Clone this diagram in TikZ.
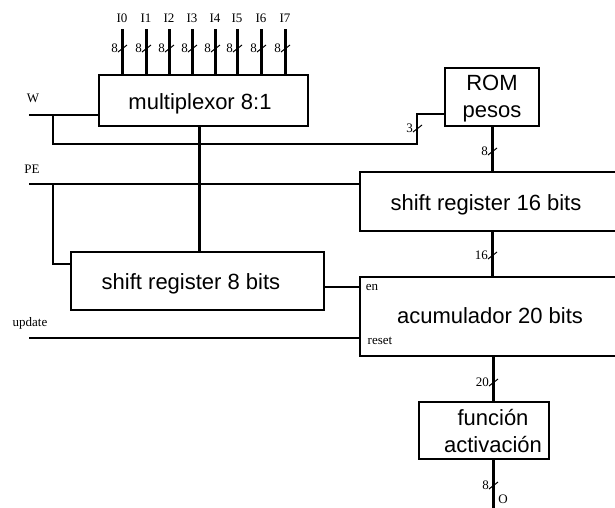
\documentclass[tikz,border=0pt]{standalone}
\usepackage{fontspec}
\setmainfont{Liberation Serif}
\newfontfamily\arialf{Liberation Sans}
\begin{document}
\begin{tikzpicture}[x=1pt,y=-1pt,
  blk/.style={draw,line width=1.4pt,inner sep=0pt},
  wire/.style={line width=1.3pt},
  bus/.style={line width=3pt},
  big/.style={font=\arialf\fontsize{22}{27}\selectfont},
  small/.style={font=\fontsize{13}{14}\selectfont,inner sep=0pt},
  slashmark/.style={line width=1pt}
]
\useasboundingbox (0,0) rectangle (615,507);
\clip (0,0) rectangle (615,507);
\newcommand\busmark[3]{%
  \draw[slashmark] (#1-4,#2+4) -- (#1+5,#2-3);
  \node[small,anchor=east] at (#1-4,#2) {#3};}

% blocks
\node[blk,minimum width=209pt,minimum height=51pt] (mux) at (203.5,100.5) {};
\node[big] (muxt) at (200,104) {multiplexor 8:1};
\node[blk,minimum width=94pt,minimum height=58pt] (rom) at (492,97) {};
\node[big,align=center] (romt) at (492,99) {ROM\\pesos};
\node[blk,minimum width=280pt,minimum height=59pt] (sr16) at (500,201.5) {};
\node[big] (sr16t) at (486,205) {shift register 16 bits};
\node[blk,minimum width=253pt,minimum height=58pt] (sr8) at (197.5,281) {};
\node[big] (sr8t) at (191,284) {shift register 8 bits};
\node[blk,minimum width=280pt,minimum height=79pt] (acc) at (500,316.5) {};
\node[big] (acct) at (490,316) {acumulador 20 bits};
\node[blk,minimum width=130pt,minimum height=57pt] (fa) at (484,430.5) {};
\node[big,align=center] (fat) at (493,431) {función\\activación};
\node[small] (en) at (372,287) {en};
\node[small] (rst) at (380,341) {reset};

% inputs I0..I7
\foreach \x [count=\i from 0] in {122,146,169,192,215,237,261,285}{
  \node[small] (in\i) at (\x,18) {I\i};
  \coordinate (it\i) at (\x,29);
  \draw[bus] (it\i) -- (it\i |- mux.north);
  \busmark{\x}{48}{8}
}

% W
\node[small] (wl) at (33,98) {W};
\coordinate (w0) at (29,115);
\coordinate (wj) at (53,115);
\coordinate (wb) at (53,144);
\coordinate (wr) at (417,144);
\coordinate (wu) at (417,114);
\draw[wire] (w0) -- (w0 -| mux.west);
\draw[wire] (wj) -- (wb) -- (wr) -- (wu) -- (wu -| rom.west);
\busmark{417}{128}{3}

% mux -> sr8
\coordinate (mx) at (199,0);
\draw[bus] (mux.south -| mx) -- (sr8.north -| mx);

% PE
\node[small] (pel) at (32,169) {PE};
\coordinate (p0) at (29,184);
\coordinate (pj) at (53,184);
\coordinate (pb) at (53,264);
\draw[wire] (p0) -- (p0 -| sr16.west);
\draw[wire] (pj) -- (pb) -- (pb -| sr8.west);

% update
\node[small] (upl) at (30,323) {update};
\coordinate (u0) at (29,338);
\draw[wire] (u0) -- (u0 -| acc.west);

% en
\coordinate (e0) at (324,287);
\draw[wire] (e0) -- (e0 -| acc.west);

% buses
\coordinate (bx) at (492,0);
\coordinate (cx) at (493,0);
\draw[bus] (rom.south -| bx) -- (sr16.north -| bx);
\busmark{492}{151}{8}
\draw[bus] (sr16.south -| bx) -- (acc.north -| bx);
\busmark{492}{255}{16}
\draw[bus] (acc.south -| cx) -- (fa.north -| cx);
\busmark{493}{382}{20}
\coordinate (out) at (493,510);
\draw[bus] (fa.south -| cx) -- (out);
\busmark{493}{485}{8}
\node[small] (ol) at (503,499) {O};
\end{tikzpicture}
\end{document}
